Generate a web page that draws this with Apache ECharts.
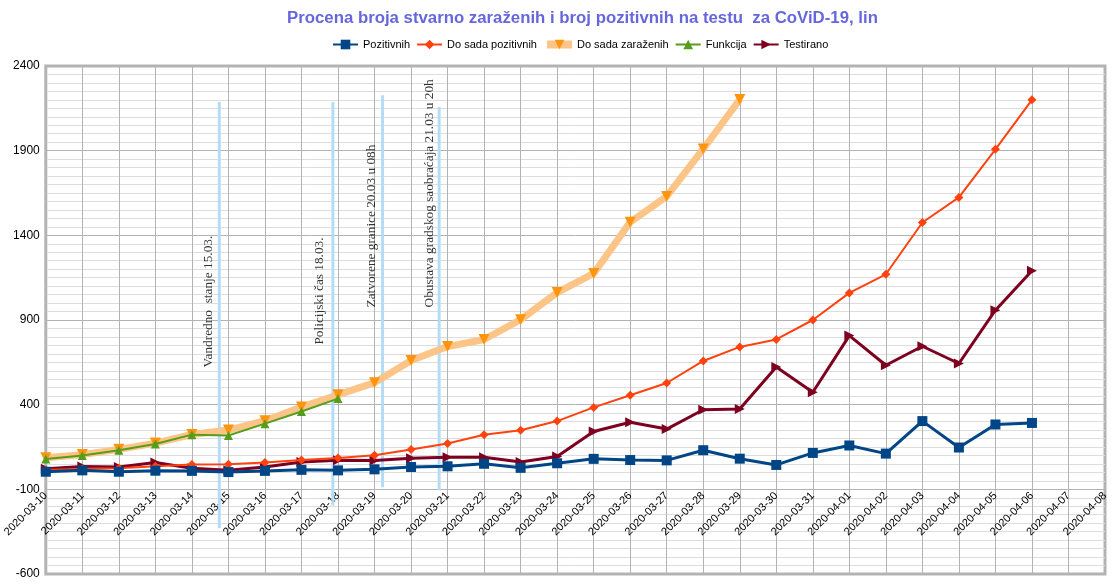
<!DOCTYPE html>
<html>
<head>
<meta charset="utf-8">
<script src="https://cdn.jsdelivr.net/npm/echarts@6/dist/echarts.min.js"></script>
<style>
html,body{margin:0;padding:0;background:#fff;}
#chart{width:1113px;height:586px;}
</style>
</head>
<body>
<div id="chart"></div>
<script>
const categories = ['2020-03-10','2020-03-11','2020-03-12','2020-03-13','2020-03-14','2020-03-15','2020-03-16','2020-03-17','2020-03-18','2020-03-19','2020-03-20','2020-03-21','2020-03-22','2020-03-23','2020-03-24','2020-03-25','2020-03-26','2020-03-27','2020-03-28','2020-03-29','2020-03-30','2020-03-31','2020-04-01','2020-04-02','2020-04-03','2020-04-04','2020-04-05','2020-04-06','2020-04-07','2020-04-08'];

const pozitivnih = [4, 12, 4, 10, 9, 2, 9, 15, 12, 18, 32, 36, 51, 27, 54, 80, 73, 71, 131, 81, 44, 115, 159, 111, 303, 147, 283, 292];
const doSadaPozitivnih = [14, 21, 25, 36, 46, 48, 58, 73, 85, 101, 135, 171, 222, 249, 303, 384, 456, 528, 658, 741, 785, 900, 1060, 1170, 1476, 1624, 1908, 2200];
const doSadaZarazenih = [86, 105, 136, 173, 224, 250, 305, 386, 458, 530, 661, 743, 785, 902, 1062, 1175, 1478, 1630, 1910, 2202];
const funkcija = [79, 100, 131, 168, 223, 218, 288, 360, 436];
const testirano = [22, 35, 32, 58, 25, 12, 32, 62, 72, 70, 84, 90, 90, 62, 94, 242, 296, 256, 370, 374, 623, 473, 808, 633, 745, 643, 958, 1191];

const yTicks = { min: -600, max: 2400, interval: 500 };

// annotation lines (positions in category-index units, values in y units)
const noteLineX = [4.75, 7.86, 9.22, 10.77];
const noteLineTop = [2187, 2187, 2228, 2157];
const noteLineBottom = [-328, -195, -88, -105];
const noteTexts = ['Vandredno  stanje 15.03.', 'Policijski čas 18.03.', 'Zatvorene granice 20.03 u 08h', 'Obustava gradskog saobraćaja 21.03 u 20h'];
const noteTextX = [4.45, 7.5, 8.92, 10.5];
const noteTextY = [619, 755, 974, 974];

const chart = echarts.init(document.getElementById('chart'), null, {renderer: 'canvas'});

const noteLineSeries = noteLineX.map((x, i) => ({
  type: 'line',
  name: 'note' + i,
  xAxisIndex: 1,
  yAxisIndex: 0,
  data: [[x, noteLineTop[i]], [x, noteLineBottom[i]]],
  symbol: 'none',
  silent: true,
  z: 1,
  lineStyle: { color: '#b4dcf7', width: 3 }
}));

const noteTextSeries = {
  type: 'scatter',
  name: 'notes',
  xAxisIndex: 1,
  yAxisIndex: 0,
  symbolSize: 0,
  silent: true,
  z: 6,
  itemStyle: { color: 'rgba(0,0,0,0)' },
  data: noteTexts.map((t, i) => ({ name: t, value: [noteTextX[i], noteTextY[i]] })),
  label: {
    show: true,
    formatter: '{b}',
    position: 'inside',
    rotate: 90,
    align: 'left',
    verticalAlign: 'middle',
    fontFamily: 'Liberation Serif',
    fontSize: 13.3,
    color: '#000'
  }
};

const option = {
  animation: false,
  backgroundColor: '#fff',
  title: {
    text: 'Procena broja stvarno zaraženih i broj pozitivnih na testu  za CoViD-19, lin',
    left: 282,
    top: 5,
    textStyle: { fontFamily: 'Liberation Sans', fontWeight: 'bold', fontSize: 16.8, color: '#6666dd' }
  },
  legend: {
    data: [
      'Pozitivnih',
      'Do sada pozitivnih',
      { name: 'Do sada zaraženih', lineStyle: { width: 8 } },
      'Funkcija',
      'Testirano'
    ],
    top: 34,
    left: 327,
    itemWidth: 25,
    itemHeight: 12,
    itemGap: 6,
    textStyle: { fontFamily: 'Liberation Sans', fontSize: 11, color: '#000' }
  },
  grid: {
    left: 42, right: 8, top: 66, bottom: 12,
    show: true, borderColor: '#b3b3b3', borderWidth: 3, backgroundColor: 'transparent'
  },
  xAxis: [{
    type: 'category',
    data: categories,
    boundaryGap: false,
    position: 'bottom',
    offset: -84,
    axisLine: { show: false },
    axisTick: { show: false },
    axisLabel: { interval: 0, rotate: 45, margin: 4, fontFamily: 'Liberation Sans', fontSize: 11, color: '#000' },
    splitLine: { show: true, interval: 0, lineStyle: { color: '#b3b3b3', width: 1 } }
  }, {
    type: 'value',
    min: 0,
    max: categories.length - 1,
    show: false
  }],
  yAxis: {
    type: 'value',
    min: yTicks.min,
    max: yTicks.max,
    interval: yTicks.interval,
    axisLine: { show: false },
    axisTick: { show: false },
    axisLabel: { margin: 6, fontFamily: 'Liberation Sans', fontSize: 12, color: '#000', formatter: v => String(v) },
    splitLine: { show: true, lineStyle: { color: '#b3b3b3', width: 1 } },
    minorTick: { show: false, splitNumber: 10 },
    minorSplitLine: { show: true, lineStyle: { color: '#dddddd', width: 1 } }
  },
  series: [
    ...noteLineSeries,
    {
      name: 'Pozitivnih', type: 'line', data: pozitivnih, z: 10,
      symbol: 'rect', symbolSize: 10,
      lineStyle: { color: '#004586', width: 3 },
      itemStyle: { color: '#004586' }
    },
    {
      name: 'Do sada pozitivnih', type: 'line', data: doSadaPozitivnih, z: 8,
      symbol: 'diamond', symbolSize: 9,
      lineStyle: { color: '#ff420e', width: 2 },
      itemStyle: { color: '#ff420e' }
    },
    {
      name: 'Do sada zaraženih', type: 'line', data: doSadaZarazenih, z: 3,
      symbol: 'triangle', symbolRotate: 180, symbolSize: 11,
      lineStyle: { color: '#fdc488', width: 7 },
      itemStyle: { color: '#ff950e' }
    },
    {
      name: 'Funkcija', type: 'line', data: funkcija, z: 4,
      symbol: 'triangle', symbolSize: 9,
      lineStyle: { color: '#579d1c', width: 2 },
      itemStyle: { color: '#579d1c' }
    },
    {
      name: 'Testirano', type: 'line', data: testirano, z: 7,
      symbol: 'triangle', symbolRotate: -90, symbolSize: 10,
      lineStyle: { color: '#7e0021', width: 3 },
      itemStyle: { color: '#7e0021' }
    },
    noteTextSeries
  ]
};

chart.setOption(option);
</script>
</body>
</html>
